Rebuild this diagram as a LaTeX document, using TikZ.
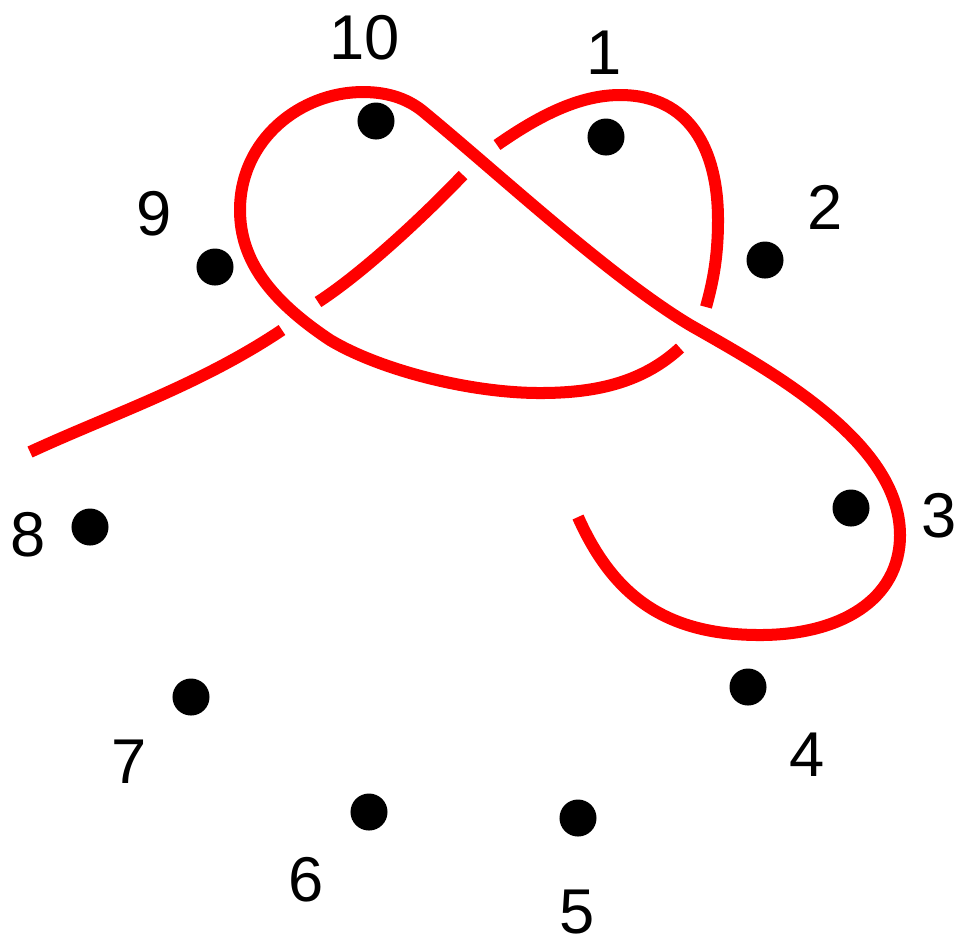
\documentclass[tikz,border=0pt]{standalone}
\usepackage{fontspec}
\setmainfont{Liberation Sans}
\usepackage{tikz}

\begin{document}
\begin{tikzpicture}[x=0.01cm, y=-0.01cm,
	knot/.style={draw=red, line width=0.12cm},
	dot/.style={circle, fill=black, inner sep=0pt, minimum size=0.37cm},
	num/.style={inner sep=0pt, font=\fontsize{18}{20}\selectfont}]
	\useasboundingbox (0,0) rectangle (973,944);
	% the strand, broken where it passes under
	\draw[knot] (30,452) .. controls (110,415) and (200,385) .. (282,330);
	\draw[knot] (318,302) .. controls (360,275) and (420,220) .. (463,175);
	\draw[knot] (497,145) .. controls (540,115) and (580,95) .. (620,95)
		.. controls (690,95) and (718,150) .. (718,220)
		.. controls (718,260) and (712,285) .. (706,307);
	\draw[knot] (680,348) .. controls (640,385) and (590,393) .. (540,393)
		.. controls (470,393) and (380,370) .. (330,340)
		.. controls (270,300) and (240,260) .. (240,210)
		.. controls (240,140) and (300,92) .. (363,92)
		.. controls (390,92) and (410,100) .. (425,113)
		.. controls (500,175) and (610,277) .. (690,325)
		.. controls (765,368) and (900,440) .. (900,535)
		.. controls (900,600) and (840,635) .. (760,635)
		.. controls (670,635) and (615,600) .. (578,517);
	% dots and their numbers
	\foreach \n/\dx/\dy/\lx/\ly in {1/606/137/604/53, 2/765/260/825/207, 3/851/508/939/516,
		4/748/687/807/755, 5/578/818/577/912, 6/369/812/306/880, 7/191/697/129/762,
		8/90/527/28/535, 9/215/267/154/214, 10/376/121/365/38}
	{
		\node[dot] (d\n) at (\dx,\dy) {};
		\node[num] (l\n) at (\lx,\ly) {\n};
	}
\end{tikzpicture}
\end{document}
